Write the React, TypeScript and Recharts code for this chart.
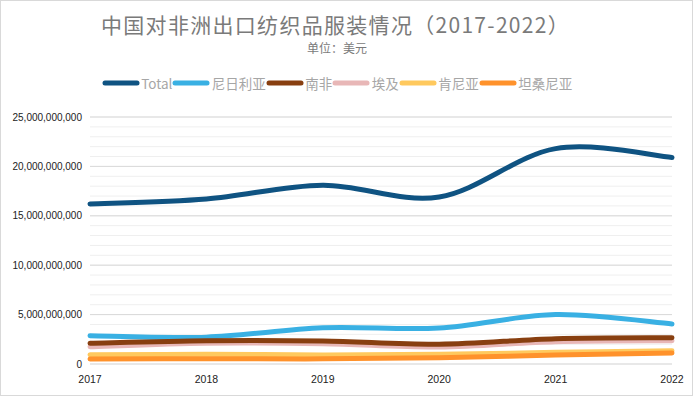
import React from 'react';
import { LineChart, Line, XAxis, YAxis, CartesianGrid, ReferenceLine } from 'recharts';

const years = ['2017', '2018', '2019', '2020', '2021', '2022'];
const total = [16.2e9, 16.7e9, 18.1e9, 16.9e9, 21.8e9, 20.9e9];
const nigeria = [2.86e9, 2.72e9, 3.67e9, 3.64e9, 5.0e9, 4.05e9];
const southAfrica = [2.1e9, 2.36e9, 2.33e9, 2.0e9, 2.56e9, 2.66e9];
const egypt = [1.75e9, 2.1e9, 2.05e9, 1.72e9, 2.26e9, 2.36e9];
const kenya = [0.94e9, 0.98e9, 0.92e9, 0.98e9, 1.18e9, 1.35e9];
const tanzania = [0.5e9, 0.54e9, 0.52e9, 0.62e9, 0.9e9, 1.12e9];

const seriesNames = ['Total', '尼日利亚', '南非', '埃及', '肯尼亚', '坦桑尼亚'];
const seriesColors = ['#0f5382', '#39b0e3', '#883f10', '#e8b7b7', '#ffc95e', '#ff922b'];
const seriesValues = [total, nigeria, southAfrica, egypt, kenya, tanzania];
const drawOrder = [0, 1, 3, 2, 4, 5];

const yTicks = Array.from({ length: 26 }, (_, i) => i * 1e9);
const majorTicks = [0, 5e9, 10e9, 15e9, 20e9, 25e9];

const data = years.map((y, i) => {
  const row: any = { year: y };
  seriesNames.forEach((n, k) => { row[n] = seriesValues[k][i]; });
  return row;
});

// Excel-like smoothing (Catmull-Rom style Bezier)
function excelCurve(context: any) {
  let pts: number[][] = [];
  return {
    areaStart() {},
    areaEnd() {},
    lineStart() { pts = []; },
    point(x: number, y: number) { pts.push([+x, +y]); },
    lineEnd() {
      if (!pts.length) return;
      context.moveTo(pts[0][0], pts[0][1]);
      for (let i = 0; i < pts.length - 1; i++) {
        const p0 = pts[i - 1] || pts[i];
        const p1 = pts[i];
        const p2 = pts[i + 1];
        const p3 = pts[i + 2] || p2;
        const c1x = p1[0] + (p2[0] - p0[0]) / 6;
        const c1y = p1[1] + (p2[1] - p0[1]) / 6;
        const c2x = p2[0] - (p3[0] - p1[0]) / 6;
        const c2y = p2[1] - (p3[1] - p1[1]) / 6;
        context.bezierCurveTo(c1x, c1y, c2x, c2y, p2[0], p2[1]);
      }
    },
  };
}

const fmt = (v: number) => (v % 5e9 === 0 ? v.toLocaleString('en-US') : '');

const LegendBlock = () => (
  <div style={{ position: 'absolute', left: 0, top: 74, width: 674, display: 'flex', justifyContent: 'center', alignItems: 'center', fontFamily: '"Noto Sans CJK SC", "Liberation Sans", sans-serif', fontSize: 13.5, color: '#a6a6a6', lineHeight: '18px' }}>
    {seriesNames.map((n, i) => (
      <div key={n} style={{ display: 'flex', alignItems: 'center', marginRight: 0 }}>
        <svg width={38} height={8}>
          <line x1={3} y1={4} x2={35} y2={4} stroke={seriesColors[i]} strokeWidth={5} strokeLinecap="round" />
        </svg>
        <span style={{ marginLeft: 1.5 }}>{n}</span>
      </div>
    ))}
  </div>
);

export default function App() {
  return (
    <div style={{ position: 'absolute', left: 0, top: 0, width: 693, height: 396, background: '#fff' }}>
      <div style={{ position: 'absolute', left: 0, top: 12, width: 671, textAlign: 'center', fontFamily: '"Noto Sans CJK SC", sans-serif', fontSize: 21, letterSpacing: 1.3, color: '#7a7a7a', lineHeight: '24px' }}>
        中国对非洲出口纺织品服装情况（2017-2022）
      </div>
      <div style={{ position: 'absolute', left: 0, top: 41, width: 674, textAlign: 'center', fontFamily: '"Noto Sans CJK SC", sans-serif', fontSize: 12, color: '#7a7a7a', lineHeight: '14px' }}>
        单位：美元
      </div>
      <LegendBlock />
      <div style={{ position: 'absolute', left: 0, top: 0 }}>
        <LineChart width={693} height={396} data={data} margin={{ top: 117, right: 21, bottom: 2, left: 0 }}>
          <CartesianGrid horizontal vertical={false} stroke="#efefef" strokeWidth={1} />
          {majorTicks.map((t) => (
            <ReferenceLine key={t} y={t} stroke="#d9d9d9" strokeWidth={1} ifOverflow="extendDomain" />
          ))}
          <XAxis dataKey="year" height={30} tickLine={false} axisLine={false} tickMargin={6}
            tick={{ fontSize: 10.5, fill: '#222', fontFamily: '"Liberation Sans", sans-serif' }} interval={0} />
          <YAxis width={90} domain={[0, 25e9]} ticks={yTicks} tickFormatter={fmt} tickLine={false} axisLine={false}
            tickSize={0} tickMargin={8} interval={0}
            tick={{ fontSize: 10, fill: '#222', fontFamily: '"Liberation Sans", sans-serif' }} />
          {drawOrder.map((i) => (
            <Line key={seriesNames[i]} dataKey={seriesNames[i]} type={excelCurve as any} stroke={seriesColors[i]} strokeWidth={5}
              dot={false} activeDot={false} isAnimationActive={false} strokeLinecap="round" />
          ))}
        </LineChart>
      </div>
      <div style={{ position: 'absolute', left: 0, top: 0, width: 693, height: 396, boxSizing: 'border-box', border: '1px solid #d9d9d9', pointerEvents: 'none' }} />
    </div>
  );
}
